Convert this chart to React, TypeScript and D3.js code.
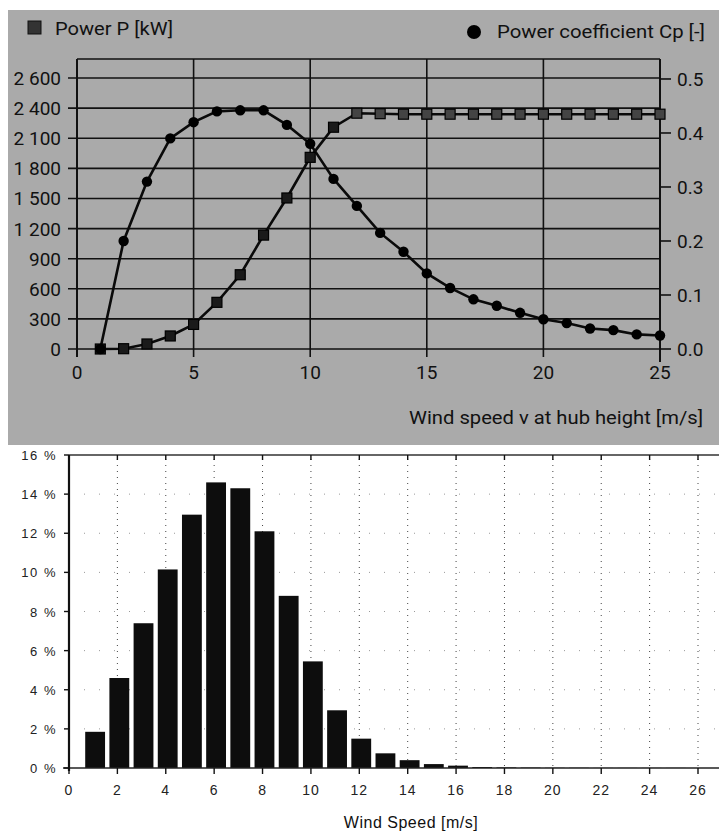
import React from "react";
import * as d3 from "d3";

// ---------- Data ----------
const windSpeeds = d3.range(1, 26);
const powerKW = [0, 3, 50, 130, 245, 465, 740, 1135, 1505, 1910, 2210, 2350, 2345, 2340, 2340, 2340, 2340, 2340, 2340, 2340, 2340, 2340, 2340, 2340, 2340];
const powerCoeff = [0.0, 0.2, 0.31, 0.39, 0.42, 0.44, 0.442, 0.442, 0.415, 0.38, 0.315, 0.265, 0.215, 0.18, 0.14, 0.113, 0.092, 0.08, 0.067, 0.055, 0.048, 0.038, 0.035, 0.027, 0.025];

const powerTicks = [0, 300, 600, 900, 1200, 1500, 1800, 2100, 2400, 2700];
const powerTickLabels = ["0", "300", "600", "900", "1 200", "1 500", "1 800", "2 100", "2 400", "2 600"];
const cpTicks = [0, 0.1, 0.2, 0.3, 0.4, 0.5];
const cpTickLabels = ["0.0", "0.1", "0.2", "0.3", "0.4", "0.5"];
const topXTicks = [0, 5, 10, 15, 20, 25];

const histSpeeds = d3.range(1, 26);
const histFreq = [1.85, 4.6, 7.4, 10.15, 12.95, 14.6, 14.3, 12.1, 8.8, 5.45, 2.95, 1.5, 0.75, 0.4, 0.2, 0.12, 0.05, 0.03, 0.02, 0.01, 0.01, 0.005, 0.005, 0.005, 0.005];
const histYTicks = [0, 2, 4, 6, 8, 10, 12, 14, 16];
const histXTicks = [0, 2, 4, 6, 8, 10, 12, 14, 16, 18, 20, 22, 24, 26];

const condensed = "Roboto, 'Liberation Sans Narrow', sans-serif";
const plain = "'Liberation Sans', Arial, sans-serif";

export default function App() {
  // ---------- Top chart scales ----------
  const xL = 77, xR = 660, yTop = 59, yBot = 349;
  const x1 = d3.scaleLinear().domain([0, 25]).range([xL, xR]);
  const yP = d3.scaleLinear().domain([0, 2890]).range([yBot, yTop]);
  const yC = d3.scaleLinear().domain([0, 0.537]).range([yBot, yTop]);

  const powerLine = d3.line<number>().x((_, i) => x1(windSpeeds[i])).y((d) => yP(d))(powerKW) || "";
  const cpLine = d3.line<number>().x((_, i) => x1(windSpeeds[i])).y((d) => yC(d))(powerCoeff) || "";

  // ---------- Bottom chart scales ----------
  const bL = 69, bR = 719, bTop = 455, bBot = 768;
  const x2 = d3.scaleLinear().domain([0, 26]).range([bL, 698]);
  const y2 = d3.scaleLinear().domain([0, 16]).range([bBot, bTop]);
  const barW = x2(0.82) - x2(0);

  return (
    <svg width={719} height={833} style={{ display: "block", position: "absolute", left: 0, top: 0 }}>
      <rect x={0} y={0} width={719} height={833} fill="#ffffff" />
      {/* ---------- Top panel ---------- */}
      <rect x={8} y={10} width={711} height={435} fill="#aaaaaa" />

      {/* horizontal grid */}
      {powerTicks.map((t, i) => (
        <g key={"hp" + i}>
          <line x1={68} x2={xR} y1={yP(t)} y2={yP(t)} stroke="#111" strokeWidth={1.6} />
          <text x={61} y={yP(t) + 7} textAnchor="end" fontFamily={condensed} fontSize={19} fill="#111">
            {powerTickLabels[i]}
          </text>
        </g>
      ))}
      {/* top frame */}
      <line x1={xL} x2={xR} y1={yTop} y2={yTop} stroke="#111" strokeWidth={1.6} />
      {/* vertical grid + x ticks */}
      {topXTicks.map((t) => (
        <g key={"vx" + t}>
          <line x1={x1(t)} x2={x1(t)} y1={yTop} y2={t === 25 ? yBot + 13 : yBot + 8} stroke="#111" strokeWidth={t === 0 || t === 25 ? 2 : 1.6} />
          <text x={x1(t)} y={yBot + 30} textAnchor="middle" fontFamily={condensed} fontSize={19} fill="#111">
            {t}
          </text>
        </g>
      ))}
      {/* right axis ticks */}
      {cpTicks.map((t, i) => (
        <g key={"cp" + i}>
          <line x1={xR} x2={xR + 11} y1={yC(t)} y2={yC(t)} stroke="#111" strokeWidth={1.6} />
          <text x={xR + 17} y={yC(t) + 7} textAnchor="start" fontFamily={condensed} fontSize={19} fill="#111">
            {cpTickLabels[i]}
          </text>
        </g>
      ))}

      {/* series lines */}
      <path d={powerLine} fill="none" stroke="#0a0a0a" strokeWidth={2.6} />
      <path d={cpLine} fill="none" stroke="#0a0a0a" strokeWidth={2.6} />
      {powerKW.map((d, i) => (
        <rect key={"ps" + i} x={x1(windSpeeds[i]) - 5} y={yP(d) - 5} width={10} height={10} fill={d > 2300 ? "#444" : "#1a1a1a"} stroke="#000" strokeWidth={1.2} />
      ))}
      {powerCoeff.map((d, i) => (
        <circle key={"cc" + i} cx={x1(windSpeeds[i])} cy={yC(d)} r={5.2} fill="#000" />
      ))}

      {/* legends */}
      <rect x={28} y={21} width={13} height={13} fill="#333" stroke="#111" strokeWidth={1} />
      <text x={55} y={35} fontFamily={condensed} fontSize={19} fill="#111" textLength={118} lengthAdjust="spacingAndGlyphs">
        Power P [kW]
      </text>
      <circle cx={474} cy={32} r={7} fill="#000" />
      <text x={497} y={38} fontFamily={condensed} fontSize={19} fill="#111" textLength={208} lengthAdjust="spacingAndGlyphs">
        Power coefficient Cp [-]
      </text>
      {/* x axis title */}
      <text x={703} y={424} textAnchor="end" fontFamily={condensed} fontSize={19} fill="#111" textLength={294} lengthAdjust="spacingAndGlyphs">
        Wind speed v at hub height [m/s]
      </text>

      {/* ---------- Bottom chart ---------- */}
      {/* dotted vertical grid */}
      {histXTicks.filter((t) => t > 0).map((t) => (
        <line key={"dg" + t} x1={x2(t)} x2={x2(t)} y1={bTop + 4} y2={bBot} stroke="#444" strokeWidth={1} strokeDasharray="1 5" />
      ))}
      {/* faint dotted horizontal grid */}
      {histYTicks.filter((t) => t > 0 && t < 16).map((t) => (
        <line key={"hg" + t} x1={bL} x2={bR} y1={y2(t)} y2={y2(t)} stroke="#999" strokeWidth={1} strokeDasharray="1 14" />
      ))}
      {/* bars */}
      {histFreq.map((d, i) => (
        <rect key={"b" + i} x={x2(histSpeeds[i] + 0.08) - barW / 2} y={y2(d)} width={barW} height={bBot - y2(d)} fill="#0d0d0d" />
      ))}
      {/* frame */}
      <line x1={bL} x2={bR} y1={bTop} y2={bTop} stroke="#333" strokeWidth={1.4} />
      <line x1={bL - 6} x2={bR} y1={bBot} y2={bBot} stroke="#222" strokeWidth={1.6} />
      <line x1={bL} x2={bL} y1={bTop} y2={bBot + 3} stroke="#111" strokeWidth={2.2} />
      {/* ticks */}
      {histXTicks.map((t) => (
        <g key={"bx" + t}>
          <line x1={x2(t)} x2={x2(t)} y1={bBot} y2={bBot + 6} stroke="#111" strokeWidth={1.4} />
          <line x1={x2(t)} x2={x2(t)} y1={bTop} y2={bTop + 5} stroke="#111" strokeWidth={1.4} />
          <text x={x2(t)} y={795} textAnchor="middle" fontFamily={plain} fontSize={14} fill="#222" letterSpacing={1}>
            {t}
          </text>
        </g>
      ))}
      {histYTicks.map((t) => (
        <g key={"by" + t}>
          <line x1={bL - 5} x2={bL} y1={y2(t)} y2={y2(t)} stroke="#111" strokeWidth={1.4} />
          <text x={57} y={y2(t) + 5} textAnchor="end" fontFamily={plain} fontSize={13} fill="#222" letterSpacing={1.5}>
            {t + " %"}
          </text>
        </g>
      ))}
      <text x={411} y={828} textAnchor="middle" fontFamily={plain} fontSize={16} fill="#111" letterSpacing={0.5}>
        Wind Speed [m/s]
      </text>
    </svg>
  );
}
